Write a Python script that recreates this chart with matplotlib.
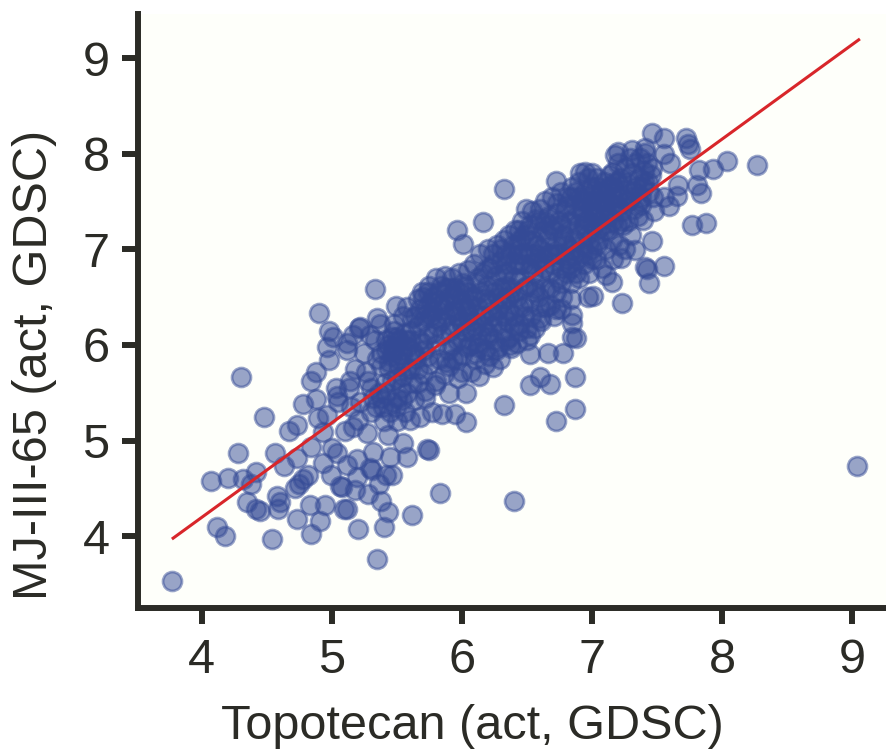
import matplotlib
matplotlib.use("Agg")
import matplotlib.pyplot as plt

# sparse points
sparse_x = [3.77, 4.12, 4.18, 4.54, 4.07, 4.20, 4.32, 4.38, 4.42, 4.28,
            4.30, 4.48, 4.56, 4.35, 4.45, 4.42, 4.58, 4.60, 4.59, 4.73,
            4.84, 4.91, 4.83, 4.95, 5.12, 5.09, 5.20, 5.40, 5.35, 5.62,
            5.43, 5.38, 5.28, 5.18, 5.08, 5.06, 4.72, 4.75, 4.78, 4.82,
            4.63, 4.73, 4.84, 4.93, 4.67, 4.73, 4.78, 4.88, 4.84, 4.88,
            4.90, 4.98, 5.01, 4.96, 4.98, 5.12, 5.12, 5.16, 5.21, 5.14,
            5.03, 5.04, 5.05, 4.89, 4.96, 5.10, 5.16, 5.27, 5.43, 5.55,
            5.58, 5.73, 5.75, 5.45, 5.32, 5.19, 5.12, 5.00, 5.04, 4.93,
            4.99, 5.29, 5.31, 5.19, 5.46, 5.36, 5.42, 5.83, 6.40, 9.04,
            6.32, 6.03, 6.52, 6.60, 6.68, 6.87, 6.72, 6.87, 6.24, 6.66,
            6.78, 6.52, 6.38, 6.85, 6.85, 6.88, 6.85, 6.72, 6.97, 5.33,
            5.49, 5.35, 5.22, 5.96, 6.16, 6.01, 6.32, 8.27, 7.46, 7.55,
            7.72, 7.74, 7.75, 8.04, 7.93, 7.82, 7.55, 7.60, 7.81, 7.84,
            7.66, 7.65, 7.55, 7.59, 7.48, 7.77, 7.88, 7.38, 7.39, 7.46,
            7.33, 7.22, 7.55, 7.42, 7.41, 7.44, 7.15, 7.11, 7.01, 7.23,
            6.72, 7.20, 7.18, 7.31, 7.41, 7.41, 6.95, 6.91, 7.00, 7.16,
            7.46]
sparse_y = [3.53, 4.10, 4.00, 3.97, 4.58, 4.61, 4.60, 4.55, 4.67, 4.87,
            5.67, 5.25, 4.87, 4.36, 4.26, 4.28, 4.42, 4.36, 4.28, 4.18,
            4.02, 4.16, 4.33, 4.33, 4.28, 4.28, 4.08, 4.10, 3.76, 4.22,
            4.25, 4.37, 4.44, 4.48, 4.51, 4.53, 4.50, 4.55, 4.60, 4.64,
            4.73, 4.82, 4.93, 5.09, 5.10, 5.16, 5.38, 5.44, 5.62, 5.72,
            6.33, 6.15, 6.08, 5.98, 5.84, 5.95, 6.02, 6.10, 6.18, 5.62,
            5.55, 5.47, 5.40, 5.24, 5.27, 5.10, 5.14, 5.08, 5.06, 4.98,
            4.83, 4.91, 4.90, 4.83, 4.88, 4.81, 4.74, 4.92, 4.87, 4.77,
            4.64, 4.71, 4.69, 4.62, 4.64, 4.55, 4.64, 4.45, 4.37, 4.73,
            5.37, 5.19, 5.58, 5.67, 5.59, 5.67, 5.20, 5.33, 5.77, 5.92,
            5.92, 5.91, 5.97, 6.31, 6.23, 6.07, 6.08, 6.38, 6.50, 6.59,
            6.41, 6.28, 6.19, 7.20, 7.29, 7.06, 7.63, 7.88, 8.22, 8.16,
            8.16, 8.10, 8.05, 7.92, 7.84, 7.83, 8.00, 7.90, 7.67, 7.59,
            7.67, 7.56, 7.55, 7.45, 7.40, 7.25, 7.27, 7.46, 7.31, 7.09,
            6.99, 6.91, 6.83, 6.79, 6.82, 6.65, 6.66, 6.73, 6.51, 6.44,
            7.71, 8.02, 7.99, 8.04, 8.06, 8.01, 7.81, 7.80, 7.80, 7.81,
            7.85]

# the dense band, estimated by eye where single points can't be separated
dense_x = [5.13, 5.18, 5.22, 5.25, 5.28, 5.30, 5.33, 5.36, 5.38, 5.40,
           5.15, 5.20, 5.26, 5.29, 5.32, 5.35, 5.37, 5.39, 5.41, 5.42,
           5.43, 5.45, 5.46, 5.47, 5.48, 5.50, 5.50, 5.51, 5.52, 5.53,
           5.44, 5.46, 5.48, 5.49, 5.54, 5.55, 5.55, 5.56, 5.57, 5.58,
           5.58, 5.60, 5.60, 5.61, 5.62, 5.63, 5.64, 5.65, 5.66, 5.66,
           5.67, 5.68, 5.69, 5.70, 5.70, 5.71, 5.72, 5.73, 5.74, 5.75,
           5.75, 5.76, 5.77, 5.78, 5.79, 5.80, 5.80, 5.81, 5.82, 5.83,
           5.84, 5.85, 5.85, 5.86, 5.87, 5.88, 5.89, 5.90, 5.90, 5.91,
           5.92, 5.93, 5.94, 5.95, 5.95, 5.96, 5.97, 5.98, 5.99, 6.00,
           6.00, 6.01, 6.02, 6.03, 6.04, 6.05, 6.05, 6.06, 6.07, 6.08,
           6.09, 6.10, 6.10, 6.11, 6.12, 6.13, 6.14, 6.15, 6.15, 6.16,
           6.17, 6.18, 6.19, 6.20, 6.20, 6.21, 6.22, 6.23, 6.24, 6.25,
           6.25, 6.26, 6.27, 6.28, 6.29, 6.30, 6.30, 6.31, 6.32, 6.33,
           6.34, 6.35, 6.35, 6.36, 6.37, 6.38, 6.39, 6.40, 6.40, 6.41,
           6.42, 6.43, 6.44, 6.45, 6.45, 6.46, 6.47, 6.48, 6.49, 6.50,
           6.50, 6.51, 6.52, 6.53, 6.54, 6.55, 6.55, 6.56, 6.57, 6.58,
           6.59, 6.60, 6.60, 6.61, 6.62, 6.63, 6.64, 6.65, 6.65, 6.66,
           6.67, 6.68, 6.69, 6.70, 6.70, 6.71, 6.72, 6.73, 6.74, 6.75,
           6.75, 6.76, 6.77, 6.78, 6.79, 6.80, 6.80, 6.81, 6.82, 6.83,
           6.84, 6.85, 6.86, 6.87, 6.88, 6.89, 6.90, 6.90, 6.91, 6.92,
           6.93, 6.94, 6.95, 6.96, 6.97, 6.98, 6.99, 7.00, 7.00, 7.01,
           7.02, 7.03, 7.04, 7.05, 7.05, 7.06, 7.07, 7.08, 7.09, 7.10,
           7.10, 7.11, 7.12, 7.13, 7.14, 7.15, 7.15, 7.16, 7.17, 7.18,
           7.19, 7.20, 7.20, 7.21, 7.22, 7.23, 7.24, 7.25, 7.25, 7.26,
           7.27, 7.28, 7.29, 7.30, 7.30, 7.31, 7.32, 7.33, 7.34, 7.35,
           7.36, 7.37, 7.38, 7.39, 7.40, 7.42, 7.43, 7.44, 7.45, 7.47]
dense_y = [5.55, 5.75, 5.40, 5.92, 5.62, 5.30, 6.05, 5.50, 5.78, 5.20,
           5.35, 5.22, 5.72, 6.10, 5.45, 5.85, 6.22, 5.35, 5.60, 5.95,
           6.00, 5.30, 5.62, 5.98, 6.22, 5.20, 5.45, 5.85, 6.05, 5.55,
           5.75, 6.08, 5.95, 5.35, 5.95, 5.68, 6.30, 5.30, 6.05, 5.50,
           6.40, 5.22, 5.75, 6.15, 5.95, 5.42, 6.30, 5.85, 5.60, 6.48,
           6.05, 5.25, 6.55, 5.70, 6.25, 5.95, 5.45, 6.40, 6.10, 6.62,
           5.80, 6.30, 5.30, 6.50, 5.58, 6.70, 6.00, 6.20, 5.85, 6.42,
           6.62, 5.28, 6.10, 5.70, 6.72, 6.30, 5.95, 6.50, 5.50, 6.15,
           6.70, 5.85, 6.35, 6.60, 5.28, 6.05, 5.65, 6.75, 6.25, 6.45,
           5.90, 6.65, 6.15, 5.50, 6.55, 6.78, 6.30, 6.00, 5.72, 6.50,
           6.85, 6.20, 5.85, 6.65, 6.40, 5.68, 6.95, 6.10, 6.55, 6.75,
           6.30, 5.95, 6.62, 7.00, 6.45, 5.88, 6.80, 6.20, 6.95, 6.55,
           6.05, 6.72, 7.05, 6.38, 5.85, 6.88, 6.60, 6.15, 7.10, 6.48,
           6.95, 6.25, 6.75, 7.15, 6.00, 6.60, 7.05, 6.85, 6.30, 7.20,
           6.50, 6.95, 6.15, 6.70, 7.10, 7.30, 6.40, 6.85, 7.42, 6.05,
           6.62, 7.20, 6.95, 6.30, 7.40, 6.75, 7.10, 6.18, 7.32, 6.90,
           6.50, 7.42, 7.00, 6.25, 7.20, 6.80, 7.50, 6.40, 7.10, 6.95,
           7.35, 6.60, 7.55, 6.85, 7.20, 6.30, 7.05, 7.48, 6.70, 7.30,
           6.95, 7.60, 6.50, 7.15, 7.40, 6.75, 7.05, 7.55, 6.85, 7.30,
           6.65, 7.65, 7.10, 7.45, 6.90, 7.25, 7.70, 6.70, 7.55, 7.05,
           7.35, 6.85, 7.60, 7.15, 7.75, 6.75, 7.45, 7.00, 7.65, 7.25,
           7.50, 6.90, 7.75, 7.30, 7.10, 7.60, 7.40, 6.80, 7.70, 7.20,
           7.50, 7.00, 7.65, 7.35, 7.78, 7.10, 7.55, 6.90, 7.45, 7.70,
           7.25, 7.90, 7.55, 7.05, 7.75, 7.40, 7.62, 7.00, 7.85, 7.50,
           7.70, 7.30, 7.95, 7.15, 7.55, 7.80, 7.42, 7.90, 7.65, 7.35,
           7.75, 7.95, 7.55, 7.65, 7.82, 7.90, 7.70, 7.60, 7.78, 7.55]

# the solid core around the fit line, also by eye
core_x = [5.38, 5.42, 5.46, 5.50, 5.54, 5.58, 5.44, 5.48, 5.52, 5.56,
          5.60, 5.62, 5.64, 5.66, 5.68, 5.70, 5.72, 5.74, 5.76, 5.78,
          5.70, 5.74, 5.78, 5.82, 5.86, 5.90, 5.94, 5.98, 6.02, 5.80,
          5.84, 5.88, 5.92, 5.96, 6.00, 6.04, 6.08, 5.86, 5.94, 6.02,
          6.06, 6.10, 6.14, 6.18, 6.22, 6.26, 6.30, 6.34, 6.12, 6.20,
          6.24, 6.28, 6.32, 6.36, 6.40, 6.44, 6.48, 6.52, 6.56, 6.60,
          6.30, 6.34, 6.38, 6.42, 6.46, 6.50, 6.54, 6.58, 6.62, 6.66,
          6.40, 6.44, 6.48, 6.52, 6.56, 6.60, 6.64, 6.68, 6.72, 6.76,
          6.68, 6.72, 6.76, 6.80, 6.84, 6.88, 6.92, 6.96, 7.00, 7.04,
          6.78, 6.82, 6.86, 6.90, 6.94, 6.98, 7.02, 7.06, 7.10, 7.14,
          6.84, 6.88, 6.92, 6.96, 7.00, 7.04, 7.08, 7.12, 7.16, 7.20,
          7.08, 7.12, 7.16, 7.20, 7.24, 7.28, 7.32, 7.36, 7.40, 7.22,
          5.30, 5.34, 5.38, 5.42, 5.46, 5.50, 5.54, 5.58, 5.62, 5.66,
          5.88, 5.92, 5.96, 6.00, 6.04, 6.08, 6.12, 6.16, 6.20, 6.24,
          6.28, 6.32, 6.36, 6.40, 6.44, 6.48, 6.52, 6.56, 6.60, 6.64,
          6.68, 6.72, 6.76, 6.80, 6.84, 6.88, 6.92, 6.96, 7.00, 7.04,
          6.12, 6.20, 6.28, 6.36, 6.44, 6.52, 6.60, 6.68, 6.76, 6.84,
          5.72, 5.80, 5.90, 6.00, 6.10, 6.18, 6.26, 6.34, 6.42, 6.50]
core_y = [5.92, 6.05, 5.88, 6.08, 5.90, 5.98, 5.82, 6.15, 5.78, 6.12,
          6.05, 6.28, 5.90, 6.20, 6.38, 6.02, 6.30, 5.88, 6.45, 6.12,
          6.50, 6.55, 6.35, 6.55, 6.45, 6.60, 6.40, 6.55, 6.40, 6.28,
          6.25, 6.60, 6.20, 6.30, 6.20, 6.35, 6.25, 6.38, 6.52, 6.62,
          6.42, 6.50, 6.30, 6.48, 6.35, 6.60, 6.45, 6.62, 6.70, 6.80,
          6.85, 6.50, 6.75, 6.50, 6.70, 6.85, 6.60, 6.80, 6.95, 6.70,
          7.00, 6.85, 6.95, 7.05, 6.95, 7.10, 6.85, 7.05, 6.90, 7.15,
          6.55, 7.20, 7.15, 7.25, 6.60, 7.30, 7.30, 6.95, 6.95, 6.80,
          7.25, 7.38, 7.25, 7.45, 7.00, 7.35, 7.50, 7.30, 7.40, 7.20,
          7.10, 7.20, 6.95, 7.15, 7.25, 7.10, 7.35, 7.50, 7.35, 7.40,
          7.55, 7.60, 7.40, 7.50, 7.55, 7.65, 7.60, 7.50, 7.65, 7.45,
          7.25, 7.20, 7.30, 7.70, 7.25, 7.50, 7.60, 7.50, 7.70, 7.30,
          5.55, 5.35, 5.45, 5.50, 5.40, 5.65, 5.42, 5.75, 5.60, 5.75,
          5.82, 6.00, 5.85, 6.05, 5.98, 6.15, 5.98, 6.20, 6.08, 6.30,
          6.25, 6.30, 6.35, 6.20, 6.40, 6.30, 6.45, 6.55, 6.40, 6.60,
          6.75, 6.55, 6.65, 6.90, 6.80, 6.75, 6.95, 6.95, 6.90, 7.05,
          6.02, 6.12, 5.98, 6.08, 6.22, 6.10, 6.28, 6.42, 6.38, 6.48,
          5.52, 5.62, 5.78, 5.72, 5.92, 5.80, 5.95, 6.05, 6.02, 6.18]

fit_x = [3.78, 9.05]
fit_y = [3.98, 9.19]

x_ticks = [4, 5, 6, 7, 8, 9]
y_ticks = [4, 5, 6, 7, 8, 9]

plt.rcParams['font.family'] = ['Liberation Sans', 'DejaVu Sans']

fig = plt.figure(figsize=(8.86, 7.52), dpi=100)
ax = fig.add_axes([138 / 886, (752 - 608) / 752, (886 - 138) / 886, (608 - 14) / 752])
ax.set_facecolor('#fefffa')

ax.scatter(sparse_x + dense_x + core_x, sparse_y + dense_y + core_y, s=185, color='#344a96',
           alpha=0.5, linewidths=2.0, zorder=2)
ax.plot(fit_x, fit_y, color='#d8262a', linewidth=2.2, zorder=3)

ax.set_xlim(3.51, 9.26)
ax.set_ylim(3.25, 9.46)
ax.set_xticks(x_ticks)
ax.set_yticks(y_ticks)
ax.tick_params(axis='both', labelsize=35, length=11.5, width=4.3, color='#2b2b26',
               labelcolor='#2b2b26', pad=9)
ax.tick_params(axis='x', pad=10)
ax.set_xlabel('Topotecan (act, GDSC)', fontsize=35, color='#2b2b26')
ax.set_ylabel('MJ-III-65 (act, GDSC)', fontsize=35, color='#2b2b26')
ax.xaxis.set_label_coords(0.4465, -0.162)
ax.yaxis.set_label_coords(-0.108, 0.41)

for side in ['top', 'right']:
    ax.spines[side].set_visible(False)
for side in ['left', 'bottom']:
    ax.spines[side].set_linewidth(4.3)
    ax.spines[side].set_color('#2b2b26')

plt.savefig('out.png', dpi=100)
